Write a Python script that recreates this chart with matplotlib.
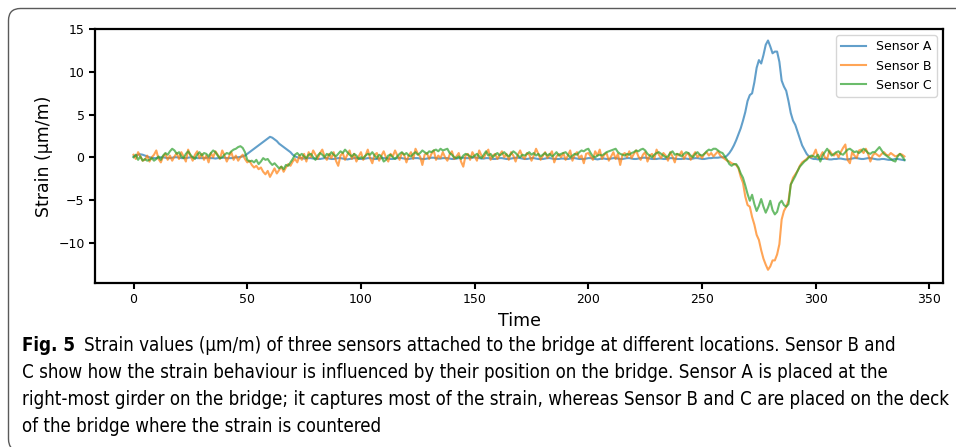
import numpy as np
import matplotlib
matplotlib.use("Agg")
import matplotlib.pyplot as plt
import matplotlib.patches as mpatches
import matplotlib.transforms as mtransforms
from matplotlib import font_manager as fm

# ---------------- data ----------------
labels = ["Sensor A", "Sensor B", "Sensor C"]
x_label = "Time"
y_label = "Strain (\u03bcm/m)"
y_ticks = [-10, -5, 0, 5, 10, 15]
x_ticks = [0, 50, 100, 150, 200, 250, 300, 350]

sensor_a = [
    0.1, 0.2, 0.3, 0.35, 0.3, 0.2, 0.1, 0.0, -0.05, -0.1,
    -0.1, -0.05, 0.0, 0.0, -0.05, -0.1, -0.1, -0.05, 0.0, 0.0,
    -0.05, -0.1, -0.1, -0.1, -0.05, 0.0, 0.0, -0.05, -0.1, -0.1,
    -0.1, -0.1, -0.05, -0.05, -0.1, -0.1, -0.15, -0.1, -0.1, -0.05,
    -0.05, -0.1, -0.1, -0.1, -0.05, 0.0, 0.0, 0.05, 0.1, 0.2,
    0.4, 0.6, 0.8, 1.0, 1.2, 1.4, 1.6, 1.8, 2.0, 2.2,
    2.4, 2.3, 2.1, 1.9, 1.6, 1.4, 1.2, 1.0, 0.8, 0.6,
    0.3, 0.1, 0.0, -0.1, -0.1, -0.15, -0.15, -0.1, -0.1, -0.15,
    -0.15, -0.2, -0.2, -0.15, -0.1, -0.1, -0.15, -0.2, -0.2, -0.15,
    -0.1, -0.1, -0.15, -0.2, -0.25, -0.2, -0.15, -0.1, -0.1, -0.15,
    -0.2, -0.2, -0.15, -0.1, -0.1, -0.15, -0.2, -0.2, -0.15, -0.1,
    -0.1, -0.1, -0.15, -0.2, -0.2, -0.15, -0.1, -0.05, -0.1, -0.15,
    -0.2, -0.2, -0.15, -0.1, -0.1, -0.1, -0.15, -0.2, -0.2, -0.15,
    -0.1, -0.05, -0.05, -0.1, -0.15, -0.15, -0.1, -0.1, -0.1, -0.15,
    -0.2, -0.2, -0.15, -0.1, -0.05, -0.05, -0.1, -0.1, -0.1, -0.05,
    0.0, -0.05, -0.1, -0.15, -0.15, -0.1, -0.1, -0.15, -0.2, -0.2,
    -0.15, -0.1, -0.1, -0.15, -0.2, -0.2, -0.15, -0.1, -0.05, -0.05,
    -0.1, -0.15, -0.2, -0.2, -0.15, -0.1, -0.1, -0.15, -0.2, -0.2,
    -0.2, -0.15, -0.1, -0.1, -0.15, -0.2, -0.2, -0.2, -0.15, -0.15,
    -0.2, -0.2, -0.15, -0.1, -0.1, -0.15, -0.2, -0.2, -0.2, -0.15,
    -0.1, -0.1, -0.15, -0.2, -0.25, -0.2, -0.15, -0.15, -0.2, -0.2,
    -0.15, -0.1, -0.1, -0.15, -0.2, -0.2, -0.15, -0.1, -0.1, -0.15,
    -0.2, -0.2, -0.15, -0.1, -0.05, -0.05, -0.1, -0.15, -0.2, -0.2,
    -0.2, -0.15, -0.15, -0.2, -0.2, -0.15, -0.1, -0.1, -0.15, -0.2,
    -0.2, -0.2, -0.15, -0.15, -0.2, -0.2, -0.15, -0.1, -0.1, -0.15,
    -0.2, -0.2, -0.15, -0.1, -0.1, -0.05, -0.05, -0.05, 0.0, 0.0,
    0.0, 0.2, 0.5, 0.9, 1.4, 2.0, 2.7, 3.4, 4.3, 5.3,
    6.6, 7.3, 7.5, 8.8, 10.5, 11.4, 11.0, 12.0, 13.2, 13.7,
    13.0, 12.2, 12.4, 12.4, 11.2, 9.0, 8.3, 7.8, 6.6, 5.2,
    4.3, 3.8, 3.0, 2.2, 1.4, 0.9, 0.4, 0.1, -0.1, -0.2,
    -0.2, -0.25, -0.2, -0.2, -0.15, -0.2, -0.25, -0.25, -0.2, -0.2,
    -0.15, -0.15, -0.2, -0.25, -0.25, -0.2, -0.15, -0.1, -0.1, -0.15,
    -0.2, -0.2, -0.15, -0.1, -0.1, -0.15, -0.2, -0.25, -0.25, -0.2,
    -0.2, -0.25, -0.3, -0.3, -0.25, -0.2, -0.2, -0.25, -0.3, -0.35,
]

sensor_b = [
    0.3, -0.2, 0.6, 0.1, -0.4, -0.3, 0.2, -0.5, 0.0, 0.3,
    0.8, -0.2, -0.6, 0.1, 0.4, -0.3, 0.2, -0.4, 0.1, 0.5,
    -0.2, 0.6, 0.1, -0.5, 0.9, 0.2, -0.4, 0.3, 0.7, -0.1,
    0.4, -0.3, 0.2, -0.6, 0.5, 0.0, 0.7, 0.3, -0.2, 0.8,
    0.2, -0.5, 0.1, 0.6, -0.3, 0.2, -0.4, 0.0, 0.3, -0.2,
    -0.6, -0.4, -0.9, -1.2, -1.0, -1.4, -1.2, -1.7, -2.0, -1.6,
    -2.3, -1.8, -1.3, -1.9, -1.5, -1.1, -1.7, -1.2, -0.8, -1.0,
    -0.5, -0.2, -0.6, 0.2, -0.3, 0.4, -0.5, 0.6, 0.0, 0.8,
    0.3, -0.2, 0.5, 0.9, 0.1, -0.3, 0.4, -0.1, 0.6, -0.4,
    -1.0, 0.2, 0.5, -0.3, 0.3, 0.8, -0.2, 0.4, -0.5, 0.1,
    0.6, -0.3, 0.2, 0.9, -0.1, -0.7, 0.3, 0.5, -0.4, 0.2,
    0.7, 0.0, -0.5, 0.4, 0.1, 0.8, 0.2, -0.3, 0.5, 0.3,
    -0.6, 0.2, 0.6, -0.2, 1.0, 0.4, 0.1, -0.9, 0.3, 0.5,
    -0.2, 0.4, 0.8, -0.3, 0.2, -0.1, 0.6, 0.0, -0.4, 0.3,
    0.7, -0.2, 0.1, 0.5, -0.5, -1.1, 0.2, 0.4, -0.3, 0.6,
    0.1, -0.4, 0.8, 0.2, -0.1, 0.5, 0.9, -0.3, 0.2, 0.4,
    -0.2, 0.3, 0.7, 0.0, 0.4, -0.3, 0.6, 0.2, -0.5, 0.3,
    0.8, 0.1, -0.2, 0.5, 0.3, -0.4, 0.2, 1.0, 0.4, -0.3,
    0.2, 0.6, -0.1, 0.3, 0.7, -0.6, 0.1, 0.4, 0.0, 0.5,
    -0.3, 0.2, 0.8, -0.4, 0.3, 0.6, -0.1, 0.2, -0.7, 0.4,
    0.5, 0.1, -0.3, 0.7, 0.2, 0.9, -0.2, 0.3, 0.5, -0.4,
    0.1, 0.6, -0.2, 0.4, -0.9, 0.3, 0.5, 0.0, 0.7, -0.1,
    0.4, 0.8, 0.1, -0.3, 0.3, 0.6, -0.5, 0.2, 0.4, -0.2,
    0.9, 0.3, -0.1, 0.5, 0.2, -0.4, 0.6, 0.1, -0.6, 0.4,
    0.2, 0.7, -0.2, 0.3, 0.5, -0.3, 0.2, 0.6, 0.0, 0.3,
    -0.1, 0.4, 0.6, 0.2, 0.5, 0.1, 0.4, 0.7, 0.2, 0.0,
    -0.2, -0.4, -0.5, -0.7, -0.8, -0.9, -1.3, -2.3, -3.0, -4.6,
    -5.6, -5.8, -7.0, -7.9, -9.1, -9.7, -10.9, -11.9, -12.6, -13.2,
    -12.8, -12.1, -12.1, -11.4, -10.2, -7.3, -6.3, -5.8, -5.1, -3.2,
    -2.4, -2.0, -1.6, -1.0, -0.6, -0.4, -0.2, 0.1, 0.0, 0.3,
    0.9, -0.1, 0.1, 0.6, 0.0, -0.2, 0.8, 0.4, 0.2, 0.5,
    0.0, 0.6, 1.1, 1.5, -0.3, -0.7, 0.6, 0.2, -0.1, 0.8,
    0.9, 0.5, 1.0, 0.4, -0.5, 0.2, 0.5, 0.3, 0.1, 0.4,
    0.6, 0.3, 0.2, 0.5, 0.3, 0.1, 0.2, 0.4, 0.3, 0.1,
]

sensor_c = [
    0.0, 0.3, -0.3, 0.1, -0.4, -0.2, -0.4, -0.3, -0.1, -0.4,
    -0.2, 0.1, -0.3, 0.2, 0.5, 0.3, 0.7, 1.0, 0.8, 0.4,
    0.6, 0.1, -0.1, 0.4, 0.7, 0.3, 0.0, -0.2, 0.3, 0.6,
    0.2, 0.5, 0.4, 0.1, 0.5, 0.8, 0.6, 0.2, -0.1, 0.0,
    0.3, 0.5, 0.4, 0.7, 0.9, 1.0, 1.2, 1.3, 1.1, 0.6,
    -0.3, -0.5, -0.4, -0.6, -0.3, -0.8, -0.5, -0.1, -0.3, -0.2,
    -0.6, -0.9, -0.7, -1.0, -1.3, -1.1, -1.4, -0.9, -1.0, -0.6,
    -0.2, 0.3, 0.5, 0.2, 0.4, 0.1, -0.1, 0.3, 0.4, 0.0,
    -0.3, 0.2, 0.5, 0.3, 0.0, 0.4, 0.2, 0.6, 0.3, 0.1,
    0.4, 0.7, 0.5, 0.9, 0.6, 0.3, 0.1, 0.4, 0.2, -0.2,
    0.0, -0.1, 0.2, 0.4, 0.3, 0.6, 0.2, -0.1, 0.3, 0.1,
    -0.5, -0.3, 0.2, 0.3, 0.0, -0.2, 0.1, 0.4, 0.6, 0.3,
    0.5, 0.2, 0.1, 0.4, 0.6, 0.3, 0.5, 0.8, 0.6, 0.4,
    0.7, 0.6, 0.8, 0.9, 0.7, 1.0, 0.8, 0.9, 1.0, 0.5,
    0.3, 0.0, -0.1, 0.1, -0.2, 0.2, 0.4, 0.3, 0.1, 0.0,
    0.2, 0.4, 0.1, -0.1, 0.3, 0.7, 0.2, 0.4, 0.0, 0.3,
    0.5, 0.2, 0.4, 0.6, 0.3, 0.1, 0.4, 0.7, 0.5, 0.2,
    0.0, 0.3, 0.2, 0.4, 0.6, 0.3, 0.5, 0.2, 0.4, 0.1,
    0.3, 0.5, 0.2, 0.4, 0.1, 0.3, 0.6, 0.2, 0.4, 0.5,
    0.6, 0.3, 0.0, 0.2, 0.4, 0.3, 0.6, 0.8, 0.7, 0.9,
    1.0, 0.5, 0.1, 0.0, 0.2, 0.3, 0.2, 0.4, 0.6, 0.7,
    0.8, 0.9, 1.0, 0.6, 0.4, 0.3, 0.2, 0.4, 0.3, 0.5,
    0.6, 0.8, 0.7, 0.9, 1.0, 0.8, 0.4, 0.2, 0.0, 0.3,
    0.5, 0.6, 0.4, 0.2, 0.0, 0.1, 0.5, 0.7, 0.3, 0.4,
    0.3, 0.1, 0.4, 0.6, 0.5, 0.2, 0.0, 0.4, 0.6, 0.3,
    0.2, 0.4, 0.7, 0.9, 0.8, 1.0, 1.0, 0.8, 0.6, 0.5,
    0.1, -0.3, -0.8, -1.0, -0.8, -0.8, -1.2, -1.9, -2.4, -3.3,
    -4.3, -5.1, -4.4, -5.5, -6.3, -5.7, -4.9, -5.8, -6.5, -5.9,
    -5.1, -6.2, -6.7, -6.4, -5.4, -5.1, -5.6, -5.8, -5.5, -3.2,
    -2.7, -2.2, -1.6, -1.1, -0.8, -0.5, -0.3, 0.0, 0.2, 0.1,
    0.0, 0.3, -0.5, 0.2, 0.6, 1.0, 0.6, 0.2, 0.4, 0.6,
    0.7, 0.4, 0.3, 0.6, 0.9, 1.0, 0.8, 0.6, 0.7, 0.5,
    0.7, 1.0, 0.8, 0.5, 0.4, 0.6, 0.6, 0.9, 1.2, 0.8,
    0.4, 0.2, 0.0, -0.2, -0.4, -0.5, 0.1, 0.4, 0.1, -0.3,
]

caption_bold = "Fig. 5"
caption_lines = [
    "Strain values (\u03bcm/m) of three sensors attached to the bridge at different locations. Sensor B and",
    "C show how the strain behaviour is influenced by their position on the bridge. Sensor A is placed at the",
    "right-most girder on the bridge; it captures most of the strain, whereas Sensor B and C are placed on the deck",
    "of the bridge where the strain is countered",
]

# ---------------- figure ----------------
W, H = 956, 447
fig = plt.figure(figsize=(W / 100, H / 100), dpi=100)
fig.patch.set_facecolor("white")

# rounded frame around the figure block
frame = mpatches.FancyBboxPatch(
    (8.5, -4), 1000, 442.5,
    boxstyle="round,pad=0,rounding_size=12",
    transform=mtransforms.IdentityTransform(),
    fill=False, edgecolor="#5a5a5a", linewidth=1.0,
)
fig.add_artist(frame)

ax = fig.add_axes([95 / W, 1 - 283 / H, (943 - 95) / W, (283 - 29) / H])

t = np.arange(len(sensor_a))
colors = ["#1f77b4", "#ff7f0e", "#2ca02c"]
for series, lab, col in zip([sensor_a, sensor_b, sensor_c], labels, colors):
    ax.plot(t[: len(series)], series, color=col, alpha=0.7, lw=1.5, label=lab)

ax.set_ylim(-14.75, 15.05)
ax.set_yticks(y_ticks)
ax.set_xticks(x_ticks)
ax.set_xlim(-16.95, 355.95)

for sp in ax.spines.values():
    sp.set_linewidth(1.6)
    sp.set_color("black")
ax.tick_params(axis="both", labelsize=9, width=1.5, length=4)
ax.set_xlabel(x_label, fontsize=12.5)
ax.set_ylabel(y_label, fontsize=12.5)

ax.legend(loc="upper right", fontsize=9)

# ---------------- caption font choice ----------------
def _w(f):
    w = f.weight
    if isinstance(w, str):
        w = {"light": 300, "normal": 400, "regular": 400, "book": 400, "medium": 500,
             "semibold": 600, "demibold": 600, "bold": 700, "heavy": 800, "black": 900}.get(w.lower(), 400)
    return w

def _is_condensed(f):
    st = f.stretch if isinstance(f.stretch, str) else ""
    nm = f.name
    return ("Narrow" in nm or "Condensed" in nm or
            ("condensed" in st and "extra" not in st and "ultra" not in st))

cands = [f for f in fm.fontManager.ttflist if _is_condensed(f) and f.style == "normal"]
regs = [f for f in cands if 300 <= _w(f) <= 500]
bolds = [f for f in cands if _w(f) >= 600]

reg_family = None
if regs:
    regs.sort(key=lambda f: abs(_w(f) - 400))
    reg_family = regs[0].name
    reg_fp = fm.FontProperties(fname=regs[0].fname)
else:
    reg_fp = fm.FontProperties(family="Roboto", weight="normal")
if bolds:
    bolds.sort(key=lambda f: (0 if f.name == reg_family else
                              1 if ("Condensed" in f.name or "Narrow" in f.name) else 2,
                              abs(_w(f) - 700)))
    bold_fp = fm.FontProperties(fname=bolds[0].fname)
else:
    bold_fp = fm.FontProperties(family="Roboto", weight="bold")

renderer = fig.canvas.get_renderer()
probe_fp = reg_fp.copy()
probe_fp.set_size(10)
probe = fig.text(0, 0, caption_lines[2], fontproperties=probe_fp)
wpx = probe.get_window_extent(renderer).width
probe.remove()
cap_size = 10 * (952 - 22) / wpx

reg_fp.set_size(cap_size)
bold_fp.set_size(cap_size)

left_px = 22
baselines = [351, 378, 405, 432]
tb = fig.text(left_px / W, 1 - baselines[0] / H, caption_bold, fontproperties=bold_fp,
              va="baseline", ha="left")
bw = tb.get_window_extent(renderer).width
fig.text((left_px + bw + 0.5 * cap_size * 100 / 72) / W, 1 - baselines[0] / H, caption_lines[0],
         fontproperties=reg_fp, va="baseline", ha="left")
for line, b in zip(caption_lines[1:], baselines[1:]):
    fig.text(left_px / W, 1 - b / H, line, fontproperties=reg_fp, va="baseline", ha="left")

fig.savefig("out.png", dpi=100)
